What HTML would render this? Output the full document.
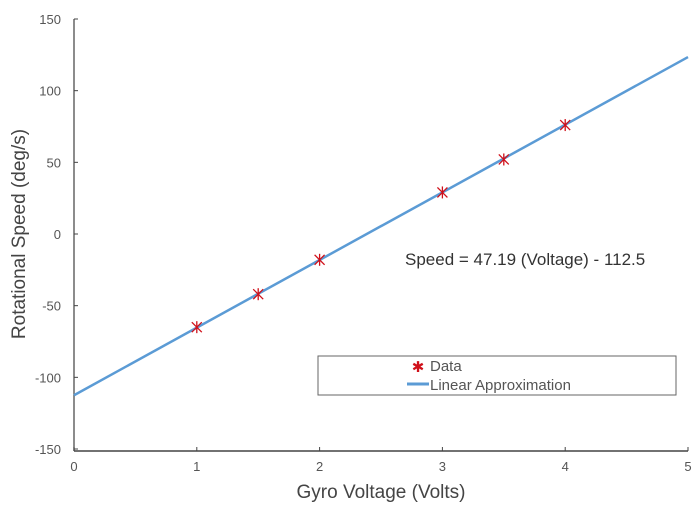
<!DOCTYPE html>
<html><head><meta charset="utf-8"><style>
body{margin:0;background:#fff;}
svg text{font-family:"Liberation Sans",sans-serif;}
</style></head><body>
<svg id="chart" width="700" height="512" xmlns="http://www.w3.org/2000/svg">
<g id="axes"></g>
<g id="marks"></g>
<text x="405" y="265" font-size="17" fill="#333">Speed = 47.19 (Voltage) - 112.5</text>
<text x="381" y="498" font-size="19" fill="#444" text-anchor="middle">Gyro Voltage (Volts)</text>
<text transform="translate(25,234) rotate(-90)" font-size="19" fill="#444" text-anchor="middle">Rotational Speed (deg/s)</text>
<g>
<rect x="318" y="356" width="358" height="39" fill="#fff" stroke="#666" stroke-width="1"/>
<text x="418" y="372" font-size="15" fill="#d0101a" text-anchor="middle">✱</text>
<text x="430" y="371" font-size="15" fill="#555">Data</text>
<line x1="407" y1="384" x2="429" y2="384" stroke="#5b9bd5" stroke-width="3"/>
<text x="430" y="390" font-size="15" fill="#555">Linear Approximation</text>
</g>
</svg>
<script>
const xTicks=[0,1,2,3,4,5];
const yTicks=[-150,-100,-50,0,50,100,150];
const dataX=[1,1.5,2,3,3.5,4];
const dataY=[-65,-42,-18,29,52,76];
const slope=[47.19];
const intercept=[-112.5];
const NS="http://www.w3.org/2000/svg";
const X0=74,X1=688,Y0=449,Y1=19;
const sx=v=>X0+(v-0)/(5-0)*(X1-X0);
const sy=v=>Y0-(v+150)/300*(Y0-Y1);
function mk(tag,attrs,parent){const e=document.createElementNS(NS,tag);for(const k in attrs)e.setAttribute(k,attrs[k]);parent.appendChild(e);return e;}
const axes=document.getElementById('axes'),marks=document.getElementById('marks');
let l=mk('line',{x1:X0,y1:Y1,x2:X0,y2:Y0+2,stroke:'#666','stroke-width':1.5},axes);


l=mk('line',{x1:X0,y1:Y0+2,x2:X1,y2:Y0+2,stroke:'#444','stroke-width':1.5},axes);


yTicks.forEach(v=>{
 const t=mk('line',{x1:X0,y1:sy(v),x2:X0+4,y2:sy(v),stroke:'#444','stroke-width':1},axes);
 
 
 const tx=mk('text',{x:X0-13,y:sy(v)+5,'font-size':13,fill:'#555','text-anchor':'end'},axes);
 tx.textContent=v;
 
 
});
xTicks.forEach(v=>{
 const t=mk('line',{x1:sx(v),y1:Y0+2,x2:sx(v),y2:Y0-2,stroke:'#444','stroke-width':1},axes);
 
 
 const tx=mk('text',{x:sx(v),y:Y0+22,'font-size':13,fill:'#555','text-anchor':'middle'},axes);
 tx.textContent=v;
 
 
});
const fit=mk('line',{x1:sx(0),y1:sy(intercept[0]),x2:sx(5),y2:sy(intercept[0]+slope[0]*5),stroke:'#5b9bd5','stroke-width':2.5},marks);


dataX.forEach((x,i)=>{
 const cx=sx(x),cy=sy(dataY[i]);
 const g=mk('g',{stroke:'#d0101a','stroke-width':1.3},marks);
 
 
 mk('line',{x1:cx,y1:cy-6,x2:cx,y2:cy+6},g);
 mk('line',{x1:cx-5,y1:cy-5,x2:cx+5,y2:cy+5},g);
 mk('line',{x1:cx-5,y1:cy+5,x2:cx+5,y2:cy-5},g);
});
</script>
</body></html>
